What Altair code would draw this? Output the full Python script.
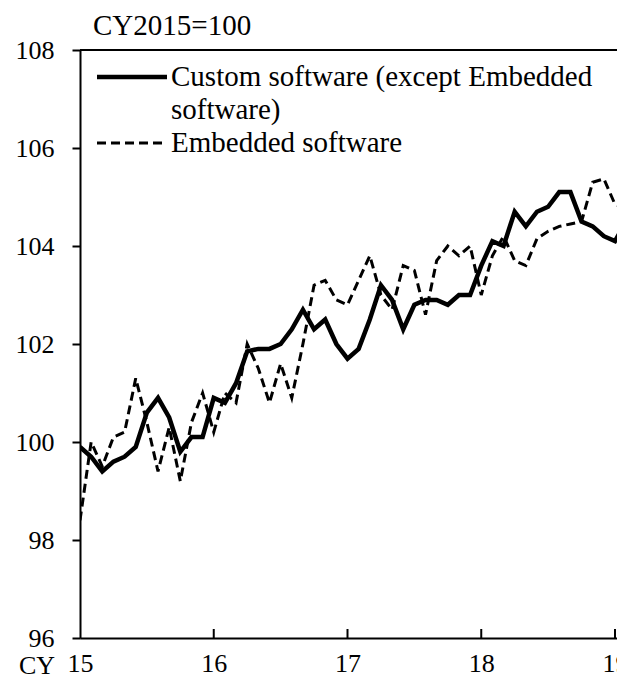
import altair as alt
import pandas as pd

# Monthly index values, Jan 2015 .. Feb 2019 (CY2015 = 100)
custom = [99.9, 99.7, 99.4, 99.6, 99.7, 99.9, 100.6, 100.9, 100.5, 99.8, 100.1, 100.1,
          100.9, 100.8, 101.2, 101.85, 101.9, 101.9, 102.0, 102.3, 102.7, 102.3, 102.5, 102.0,
          101.7, 101.9, 102.5, 103.2, 102.9, 102.3, 102.8, 102.9, 102.9, 102.8, 103.0, 103.0,
          103.6, 104.1, 104.0, 104.7, 104.4, 104.7, 104.8, 105.1, 105.1, 104.5, 104.4, 104.2,
          104.1, 104.5]
embedded = [98.4, 100.0, 99.5, 100.1, 100.2, 101.3, 100.4, 99.4, 100.3, 99.2, 100.4, 101.0,
            100.2, 101.0, 100.8, 102.0, 101.5, 100.8, 101.6, 100.9, 102.0, 103.2, 103.3, 102.9,
            102.8, 103.3, 103.8, 103.0, 102.7, 103.6, 103.5, 102.6, 103.7, 104.0, 103.8, 104.0,
            103.0, 103.8, 104.2, 103.7, 103.6, 104.15, 104.3, 104.4, 104.45, 104.5, 105.3, 105.37,
            104.85, 104.77]
start_year = 2015
year_ticks = [2016, 2017, 2018, 2019]
x_labels = [2015, 2016, 2017, 2018, 2019]
y_ticks = [96, 98, 100, 102, 104, 106, 108]

FONT = "Times New Roman, Liberation Serif, DejaVu Serif, serif"
FS = 26
FS_TXT = 29
W, H = 537, 588

rows = []
for i, (c, e) in enumerate(zip(custom, embedded)):
    t = start_year + i / 12
    rows.append({"t": t, "value": c, "series": "custom"})
    rows.append({"t": t, "value": e, "series": "embedded"})
df = pd.DataFrame(rows)

xscale = alt.Scale(domain=[2015, 2015 + W / 133.75], nice=False, zero=False)
yscale = alt.Scale(domain=[96, 108], nice=False, zero=False)

xaxis = alt.Axis(values=x_labels, labelExpr="substring(toString(datum.value), 2)",
                 ticks=False, tickSize=0, grid=False, domainColor="black", domainWidth=2,
                 labelFont=FONT, labelFontSize=FS, labelColor="black", labelPadding=12,
                 labelFlush=False, labelOverlap=False, title=None)
yaxis = alt.Axis(values=y_ticks, grid=False, domainColor="black", domainWidth=2,
                 tickColor="black", tickWidth=2, tickSize=8,
                 labelFont=FONT, labelFontSize=FS, labelColor="black", labelPadding=18,
                 title=None)

base = alt.Chart(df)

solid = base.transform_filter(alt.datum.series == "custom").mark_line(
    color="black", strokeWidth=4.5, clip=True
).encode(x=alt.X("t:Q", scale=xscale, axis=xaxis), y=alt.Y("value:Q", scale=yscale, axis=yaxis))

dashed = base.transform_filter(alt.datum.series == "embedded").mark_line(
    color="black", strokeWidth=3, strokeDash=[9, 5], clip=True
).encode(x=alt.X("t:Q", scale=xscale), y=alt.Y("value:Q", scale=yscale))

ticks_df = pd.DataFrame({"t": year_ticks})
xticks = alt.Chart(ticks_df).mark_rule(color="black", strokeWidth=2).encode(
    x=alt.X("t:Q", scale=xscale), y=alt.value(H), y2=alt.value(H - 9)
)

top_line = alt.Chart(pd.DataFrame({"a": [0]})).mark_rule(color="black", strokeWidth=2).encode(
    x=alt.value(0), x2=alt.value(W), y=alt.value(0)
)

txt = dict(font=FONT, fontSize=FS_TXT, color="black", align="left", baseline="middle")
one = pd.DataFrame({"a": [0]})
leg_solid = alt.Chart(one).mark_rule(color="black", strokeWidth=4.5).encode(
    x=alt.value(17), x2=alt.value(87), y=alt.value(27))
leg_dash = alt.Chart(one).mark_rule(color="black", strokeWidth=3, strokeDash=[9, 5]).encode(
    x=alt.value(17), x2=alt.value(87), y=alt.value(93))
leg_t1 = alt.Chart(one).mark_text(text="Custom software (except Embedded", **txt).encode(
    x=alt.value(91), y=alt.value(27))
leg_t2 = alt.Chart(one).mark_text(text="software)", **txt).encode(
    x=alt.value(91), y=alt.value(60))
leg_t3 = alt.Chart(one).mark_text(text="Embedded software", **txt).encode(
    x=alt.value(91), y=alt.value(93))
unit = alt.Chart(one).mark_text(text="CY2015=100", **txt).encode(
    x=alt.value(13), y=alt.value(-24))
cy = alt.Chart(one).mark_text(text="CY", font=FONT, fontSize=FS, color="black",
                              align="right", baseline="alphabetic").encode(
    x=alt.value(-25), y=alt.value(H + 36))

chart = alt.layer(
    solid, dashed, xticks, top_line, leg_solid, leg_dash, leg_t1, leg_t2, leg_t3, unit, cy
).properties(
    width=W, height=H,
    autosize=alt.AutoSizeParams(type="none"),
    padding={"left": 72, "top": 42, "right": 0, "bottom": 38},
).configure_view(stroke=None).configure(background="white")

chart.save("out.html", embed_options={"renderer": "svg", "actions": False})
